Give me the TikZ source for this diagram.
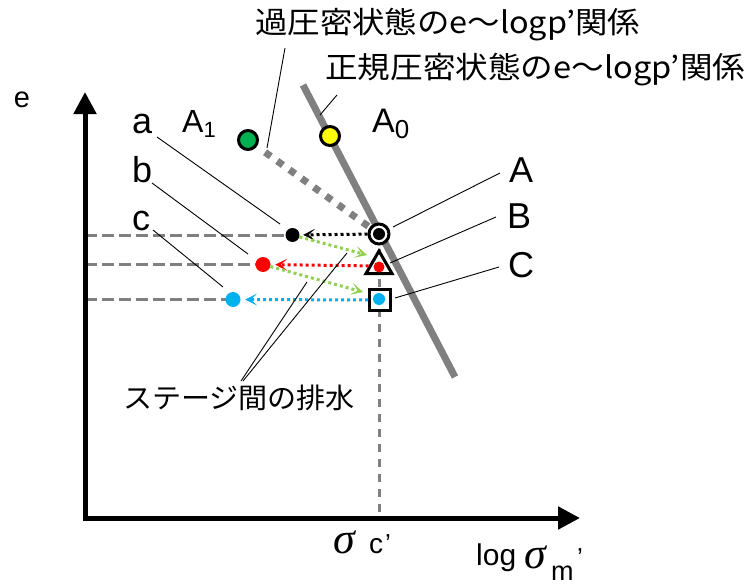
\documentclass[tikz,border=0pt]{standalone}
\usepackage{graphicx}
\usepackage{fontspec}
\setmainfont{Liberation Sans}
\newfontfamily\jpfont{Noto Sans CJK JP}
\newfontfamily\grkfont{Liberation Serif}
\usetikzlibrary{arrows.meta,shapes.geometric}
\pgfdeclarelayer{bg}
\pgfsetlayers{bg,main}
\definecolor{gline}{RGB}{128,128,128}
\definecolor{dgreen}{RGB}{0,176,80}
\definecolor{lgreen}{RGB}{146,208,80}
\definecolor{lblue}{RGB}{0,176,240}
\definecolor{ptred}{RGB}{255,0,0}
\definecolor{ptyellow}{RGB}{255,255,0}
\tikzset{
  axisline/.style={line width=5pt, line join=miter, {Triangle[length=22pt,width=22pt]}-{Triangle[length=22pt,width=22pt]}},
  nclline/.style={line width=7pt, gline},
  oclline/.style={line width=7pt, gline, dash pattern=on 7pt off 8pt},
  hguide/.style={line width=3pt, gline, dash pattern=on 12pt off 5pt},
  vguide/.style={line width=3pt, gline, dash pattern=on 8pt off 7pt},
  dotarrow/.style={line width=3pt, dash pattern=on 3pt off 3pt, -{Stealth[length=12pt,width=12pt,inset=6.5pt,line width=0.5pt]}},
  leader/.style={line width=0.9pt, black},
  bigpt/.style={circle, draw=black, line width=3pt, inner sep=0pt, minimum size=19pt},
  dotpt/.style={circle, inner sep=0pt, minimum size=#1},
  lbl/.style={inner sep=0pt, font=\fontsize{36}{36}\selectfont},
  jlbl/.style={inner sep=0pt, font=\jpfont\fontsize{30}{30}\selectfont},
  sigmalbl/.style={inner sep=0pt, font=\grkfont\itshape\fontsize{44}{44}\selectfont},
  sublbl/.style={inner sep=0pt, anchor=base west, font=\fontsize{27}{27}\selectfont},
}
\begin{document}
\begin{tikzpicture}[x=1pt,y=-1pt]
\useasboundingbox (0,0) rectangle (750,586);
% axis and line coordinates
\coordinate (O) at (85,518);
\coordinate (Ytip) at (85,92);
\coordinate (Xtip) at (580,518);
\coordinate (N1) at (303,85);
\coordinate (N2) at (455,377);
% state markers
\node[bigpt, fill=dgreen] (G) at (248,140) {};
\node[bigpt, fill=ptyellow] (Yp) at (330,136) {};
\node[bigpt, minimum size=20pt, fill=white] (A) at (379,234) {};
\node[dotpt=12pt, fill=black] (Ad) at (A) {};
\node[regular polygon, regular polygon sides=3, draw=black, line width=3pt, fill=white, inner sep=0pt, minimum size=30pt] (B) at (379,266) {};
\node[dotpt=11pt, fill=ptred] (Bd) at (379,267) {};
\node[rectangle, draw=black, line width=3pt, fill=white, inner sep=0pt, minimum size=21pt] (C) at (380,300) {};
\node[dotpt=12pt, fill=lblue] (Cd) at (379,299) {};
\node[dotpt=14pt, fill=black] (a) at (292.5,235) {};
\node[dotpt=15pt, fill=ptred] (b) at (263,264.5) {};
\node[dotpt=15pt, fill=lblue] (c) at (233,299.5) {};
% background lines
\begin{pgfonlayer}{bg}
\draw[hguide] (O |- a) -- (a.center);
\draw[hguide] (O |- b) -- (b.center);
\draw[hguide] (O |- c) -- (c.center);
\draw[vguide] (A.center) -- (A |- O);
\draw[axisline] (Ytip) -- (O) -- (Xtip);
\draw[nclline] (N1) -- (N2);
\draw[oclline, shorten <=10pt] (G) -- (A.center);
\end{pgfonlayer}
% drainage arrows
\coordinate (g1) at (367,255);
\coordinate (g2) at (363,292);
\draw[dotarrow, black, shorten >=3.5pt] (A) -- (a);
\draw[dotarrow, ptred, shorten >=4.5pt] (B) -- (b);
\draw[dotarrow, lblue, shorten >=4.5pt] (C) -- (c);
\draw[dotarrow, lgreen] (a) -- (g1);
\draw[dotarrow, lgreen] (b) -- (g2);
% labels
\node[lbl, font=\fontsize{29}{29}\selectfont, anchor=base] (Le) at (22,107) {e};
\node[lbl, anchor=base west] (La) at (132,133) {a};
\node[lbl, anchor=base west] (Lb) at (132,182) {b};
\node[lbl, anchor=base west] (Lc) at (132,230) {c};
\node[lbl, anchor=base west] (LA) at (509,182) {A};
\node[lbl, anchor=base west] (LB) at (507,228) {B};
\node[lbl, anchor=base west] (LC) at (508,277) {C};
\node[inner sep=0pt, anchor=base west] (LA1) at (182,132) {\fontsize{32}{32}\selectfont A\raisebox{-5pt}{\fontsize{22}{22}\selectfont 1}};
\node[inner sep=0pt, anchor=base west] (LA0) at (372,132) {\fontsize{34}{34}\selectfont A\raisebox{-6pt}{\fontsize{26}{26}\selectfont 0}};
\node[jlbl, anchor=west] (T1) at (255,25) {\resizebox{385pt}{\height}{過圧密状態のe～logp’関係}};
\node[jlbl, anchor=west] (T2) at (325,70) {\resizebox{420pt}{\height}{正規圧密状態のe～logp’関係}};
\node[jlbl, font=\jpfont\fontsize{28}{28}\selectfont] (D) at (239,398) {\resizebox{232pt}{\height}{ステージ間の排水}};
% axis labels
\node[sigmalbl] (SGc) at (344,542) {σ};
\node[sublbl, font=\fontsize{28}{28}\selectfont] (Sc) at (369,553) {c};
\node[sublbl, font=\fontsize{26}{26}\selectfont] (Pc) at (385,552) {’};
\node[sublbl, font=\fontsize{30}{30}\selectfont] (Lg) at (476,565) {log};
\node[sigmalbl] (SGm) at (535,557) {σ};
\node[sublbl] (Sm) at (551,580) {m};
\node[sublbl, font=\fontsize{26}{26}\selectfont] (Pm) at (577,566) {’};
% leader lines
\coordinate (t1a) at (285,48);  \coordinate (t1b) at (267,148);
\coordinate (t2a) at (337,95);  \coordinate (t2b) at (320,115);
\coordinate (laa) at (157,137); \coordinate (lab) at (280,224);
\coordinate (lba) at (152,183); \coordinate (lbb) at (248,254);
\coordinate (lca) at (153,230); \coordinate (lcb) at (223,287);
\coordinate (lAa) at (500,173); \coordinate (lAb) at (393,227);
\coordinate (lBa) at (496,217); \coordinate (lBb) at (390,263);
\coordinate (lCa) at (499,267); \coordinate (lCb) at (395,298);
\coordinate (dl1) at (241,381); \coordinate (ds1) at (307,282);
\coordinate (dl2) at (243,381); \coordinate (ds2) at (347,253);
\draw[leader] (t1a) -- (t1b);
\draw[leader] (t2a) -- (t2b);
\draw[leader] (laa) -- (lab);
\draw[leader] (lba) -- (lbb);
\draw[leader] (lca) -- (lcb);
\draw[leader] (lAa) -- (lAb);
\draw[leader] (lBa) -- (lBb);
\draw[leader] (lCa) -- (lCb);
\draw[leader] (dl1) -- (ds1);
\draw[leader] (dl2) -- (ds2);
\end{tikzpicture}
\end{document}
